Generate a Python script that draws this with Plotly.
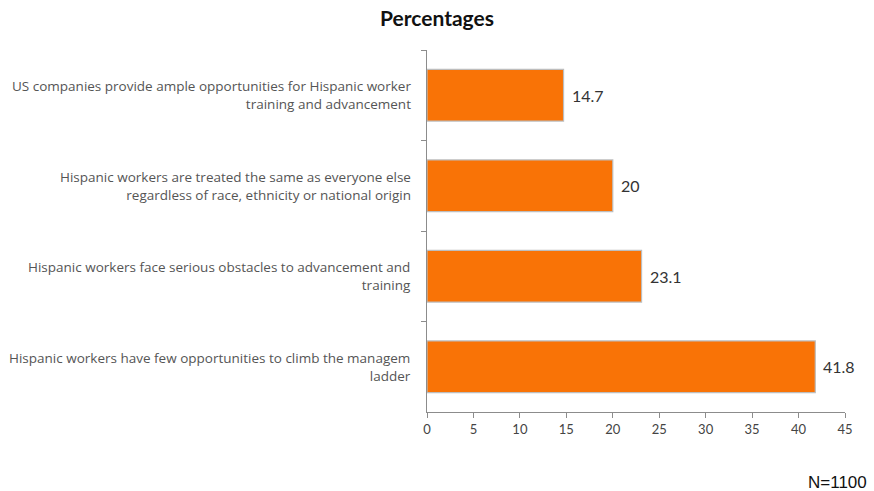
import plotly.graph_objects as go

# Survey statements (top to bottom) and their percentages
statements = [
    "US companies provide ample opportunities for Hispanic worker<br>training and advancement",
    "Hispanic workers are treated the same as everyone else<br>regardless of race, ethnicity or national origin",
    "Hispanic workers face serious obstacles to advancement and<br>training",
    "Hispanic workers have few opportunities to climb the managem<br>ladder",
]
percentages = [14.7, 20, 23.1, 41.8]
x_ticks = [0, 5, 10, 15, 20, 25, 30, 35, 40, 45]

fig = go.Figure()
fig.add_trace(go.Bar(
    x=percentages,
    y=statements,
    orientation="h",
    marker=dict(color="#F97306", line=dict(color="#BDBDBD", width=1.2)),
    width=0.57,
    hoverinfo="skip",
))

annotations = []
for s, v in zip(statements, percentages):
    annotations.append(dict(
        x=-0.034, xref="paper", y=s, yref="y",
        text=s, showarrow=False, xanchor="right", yanchor="middle",
        align="right", font=dict(family="Open Sans", size=13.5, color="#555555"),
    ))
    annotations.append(dict(
        x=v, xref="x", y=s, yref="y",
        text=f"{v:g}", showarrow=False, xanchor="left", yanchor="middle",
        xshift=6, font=dict(family="Lato", size=16, color="#333333"),
    ))
annotations.append(dict(
    x=1.0, xref="paper", y=-0.195, yref="paper",
    text="N=1100", showarrow=False, xanchor="right", yanchor="middle", xshift=24,
    font=dict(family="Liberation Sans Narrow, Liberation Sans", size=17, color="#111111"),
))

fig.update_layout(
    width=874, height=491,
    margin=dict(l=427, r=29, t=50, b=79),
    paper_bgcolor="white", plot_bgcolor="white",
    showlegend=False,
    title=dict(text="<b>Percentages</b>", x=0.5, xanchor="center", y=0.962, yanchor="middle",
               font=dict(family="Lato", size=21, color="#111111")),
    annotations=annotations,
    xaxis=dict(
        range=[0, 45], tickvals=x_ticks, showgrid=False, zeroline=False,
        showline=True, linecolor="#8C8C8C", linewidth=1,
        ticks="outside", ticklen=5, tickcolor="#8C8C8C",
        tickfont=dict(family="Lato", size=13, color="#444444"),
    ),
    yaxis=dict(
        autorange="reversed", showgrid=False, zeroline=False,
        showline=True, linecolor="#8C8C8C", linewidth=1,
        ticks="outside", ticklen=5, tickcolor="#8C8C8C",
        tickson="boundaries", showticklabels=False,
    ),
)

fig.write_html("out.html")
